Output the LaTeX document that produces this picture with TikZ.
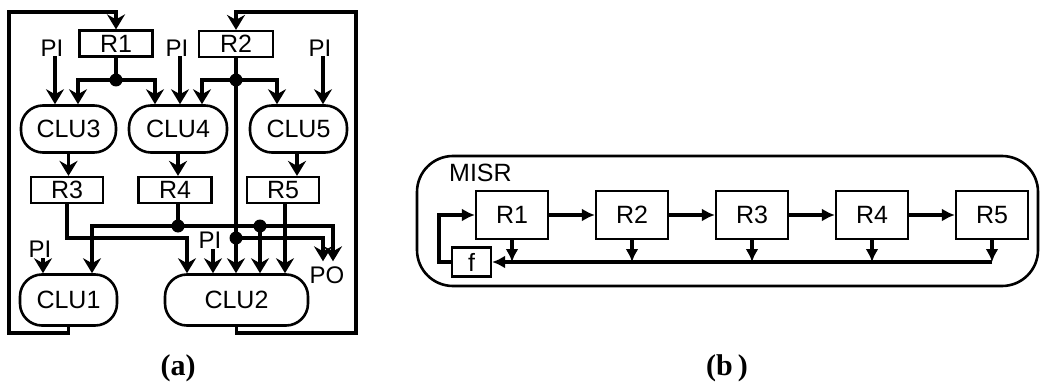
\documentclass[tikz,border=0pt]{standalone}
\usepackage{fontspec}
\setmainfont{Liberation Sans}
\newfontfamily\labserif{Liberation Serif}
\usetikzlibrary{arrows.meta}
\begin{document}
\begin{tikzpicture}[x=1pt,y=-1pt,
  every node/.style={font=\fontsize{25}{25}\selectfont, inner sep=0pt},
  reg/.style={draw, line width=2.2pt, minimum width=73pt, minimum height=26pt},
  breg/.style={draw, line width=2.2pt, minimum width=72pt, minimum height=48pt},
  clu/.style={draw, line width=2.6pt, rounded corners=22pt, minimum height=47pt},
  wire/.style={line width=3.2pt},
  sarr/.style={wire, -{Stealth[length=15pt,width=18pt,inset=5pt]}},
  barr/.style={wire, -{Latex[length=13pt,width=13pt]}},
  junc/.style={circle, fill, minimum size=13pt, inner sep=0pt},
  lab/.style={font=\fontsize{24}{24}\selectfont},
  caplab/.style={font=\labserif\bfseries\fontsize{30}{30}\selectfont}]
\useasboundingbox (0,0) rectangle (1040,382);

% ---------- (a) ----------
\node[reg] (r1) at (116,43.5) {R1};
\node[reg, minimum width=74pt] (r2) at (236,44) {R2};
\node[reg, minimum width=72pt] (r3) at (67,190) {R3};
\node[reg] (r4) at (175,190) {R4};
\node[reg, minimum width=72pt] (r5) at (283,190) {R5};

\node[clu, minimum width=95pt] (clu3) at (68.5,129) {CLU3};
\node[clu, minimum width=98pt] (clu4) at (178,129) {CLU4};
\node[clu, minimum width=97pt] (clu5) at (298.5,129) {CLU5};
\node[clu, minimum width=97pt, minimum height=51pt] (clu1) at (68.5,300) {CLU1};
\node[clu, minimum width=143pt, minimum height=51pt] (clu2) at (236.5,300) {CLU2};

\node[lab] (pi1) at (52,48) {PI};
\node[lab] (pi2) at (177,48) {PI};
\node[lab] (pi3) at (320,48) {PI};
\node[lab] (pi4) at (40,249) {PI};
\node[lab] (pi5) at (210,240) {PI};
\node[lab] (po) at (327,275) {PO};

\node[junc] (d1) at (116,80) {};
\node[junc] (d2) at (236,80) {};
\node[junc] (d4) at (178,226) {};
\node[junc] (d5) at (260,226) {};
\node[junc] (d6) at (236,238) {};

\coordinate (lb) at (9,333);
\coordinate (lt) at (9,12);
\coordinate (rb) at (356,333);
\coordinate (rt) at (356,12);
\coordinate (t3) at ([xshift=-49.5pt]clu2.north);

% primary inputs
\draw[sarr] ([xshift=3pt]pi1.south) -- ([xshift=3pt]pi1.south |- clu3.north);
\draw[sarr] ([xshift=3pt]pi2.south) -- ([xshift=3pt]pi2.south |- clu4.north);
\draw[sarr] ([xshift=3pt]pi3.south) -- ([xshift=3pt]pi3.south |- clu5.north);
\draw[sarr] ([xshift=3pt,yshift=-1pt]pi4.south) -- ([xshift=3pt]pi4.south |- clu1.north);
\draw[sarr] ([xshift=3pt,yshift=-1pt]pi5.south) -- ([xshift=3pt]pi5.south |- clu2.north);

% R1 fan-out
\draw[wire] (r1.south) -- (d1.center);
\draw[sarr] (d1.center) -| ([xshift=9.5pt]clu3.north);
\draw[sarr] (d1.center) -| ([xshift=-23pt]clu4.north);
% R2 fan-out
\draw[wire] (r2.south) -- (d2.center);
\draw[sarr] (d2.center) -| ([xshift=24pt]clu4.north);
\draw[sarr] (d2.center) -| ([xshift=-21.5pt]clu5.north);
\draw[wire] (d2.center) -- (d6.center);
\draw[sarr] (d6.center) -- (d6.center |- clu2.north);
\draw[sarr] (d6.center) -| ([xshift=-4pt,yshift=5pt]po.north);

% CLU -> R
\draw[sarr] (clu3.south) -- (clu3.south |- r3.north);
\draw[sarr] (clu4.south) -- (clu4.south |- r4.north);
\draw[sarr] ([xshift=-1.5pt]clu5.south) -- ([xshift=-1.5pt]clu5.south |- r5.north);

% R3
\draw[sarr] (r3.south) |- (d6 -| t3) -- (t3);
% R4
\draw[wire] (d4 |- r4.south) -- (d4.center);
\draw[sarr] (d4.center) -| ([xshift=23.5pt]clu1.north);
\draw[sarr] (d4.center) -| ([xshift=6pt,yshift=5pt]po.north);
\draw[sarr] (d5.center) -- (d5.center |- clu2.north);
% R5
\draw[sarr] ([xshift=2pt]r5.south) -- ([xshift=2pt]r5.south |- clu2.north);

% feedback loops
\draw[sarr] (clu1.south) |- (lb) -- (lt) -| (r1.north);
\draw[sarr] (clu2.south) |- (rb) -- (rt) -| (r2.north);

\node[caplab] (capa) at (178,368) {(a)};

% ---------- (b) ----------
\node[draw, line width=2.6pt, rounded corners=36pt, minimum width=621pt, minimum height=130pt] (misr) at (727.5,221) {};
\node[anchor=west] (misrlab) at (449,173) {MISR};

\node[breg] (b1) at (512,215) {R1};
\node[breg] (b2) at (632,215) {R2};
\node[breg] (b3) at (752,215) {R3};
\node[breg] (b4) at (872,215) {R4};
\node[breg] (b5) at (992,215) {R5};
\node[breg, minimum width=39pt, minimum height=29pt] (f) at (471.5,262) {f};
\coordinate (fl) at (439,262);

\draw[barr] (b1) -- (b2);
\draw[barr] (b2) -- (b3);
\draw[barr] (b3) -- (b4);
\draw[barr] (b4) -- (b5);
\draw[barr] (b1.south) -- (b1.south |- f);
\draw[barr] (b2.south) -- (b2.south |- f);
\draw[barr] (b3.south) -- (b3.south |- f);
\draw[barr] (b4.south) -- (b4.south |- f);
\draw[barr] (b5.south) -- (b5.south |- f);
\draw[barr] (b5.south |- f) -- (f.east);
\draw[barr] (f.west) -- (fl) |- (b1.west);

\node[caplab] (capb) at (727,368) {(b\,)};
\end{tikzpicture}
\end{document}
